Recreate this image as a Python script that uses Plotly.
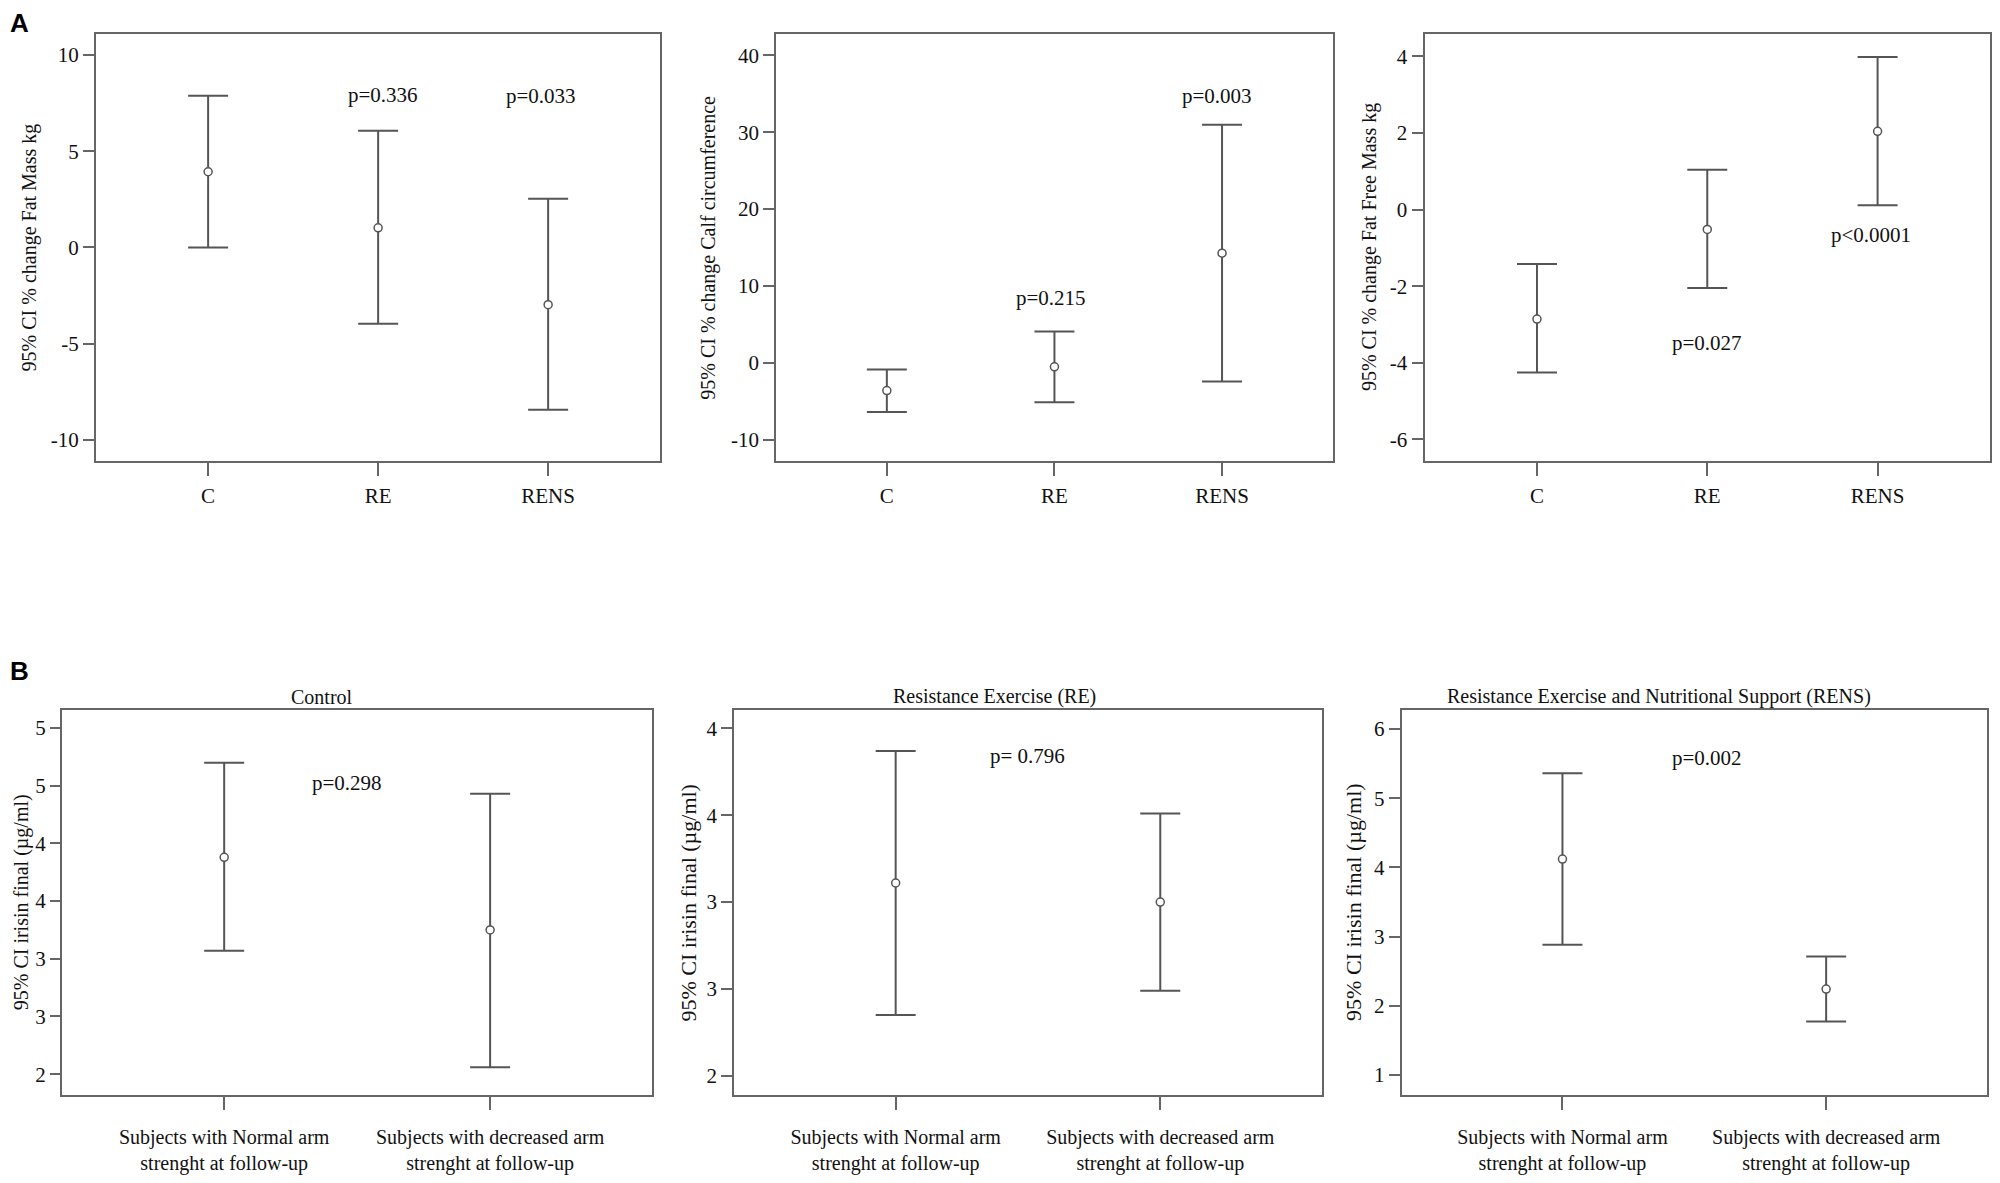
import plotly.graph_objects as go
from plotly.subplots import make_subplots

# ---- panel A: % change by group (C / RE / RENS) ----
a_groups = ["C", "RE", "RENS"]

fat_mass_mean = [3.93, 1.02, -2.97]
fat_mass_low = [0.0, -3.96, -8.43]
fat_mass_high = [7.88, 6.06, 2.53]

calf_mean = [-3.63, -0.53, 14.25]
calf_low = [-6.42, -5.13, -2.43]
calf_high = [-0.88, 4.07, 30.97]

ffm_mean = [-2.86, -0.52, 2.04]
ffm_low = [-4.25, -2.05, 0.11]
ffm_high = [-1.42, 1.04, 3.98]

# ---- panel B: irisin final by arm strength ----
b_groups = ["Subjects with Normal arm<br>strenght at follow-up",
            "Subjects with decreased arm<br>strenght at follow-up"]

control_mean = [3.88, 3.25]
control_low = [3.07, 2.06]
control_high = [4.70, 4.43]

re_mean = [3.11, 3.00]
re_low = [2.35, 2.49]
re_high = [3.87, 3.51]

rens_mean = [4.12, 2.24]
rens_low = [2.88, 1.77]
rens_high = [5.36, 2.71]

# p-value labels: (text, x index, y)
p_fat = [("p=0.336", 1.03, 7.9), ("p=0.033", 1.96, 7.85)]
p_calf = [("p=0.215", 0.98, 8.4), ("p=0.003", 1.97, 34.7)]
p_ffm = [("p=0.027", 1.0, -3.48), ("p<0.0001", 1.96, -0.67)]
p_control = [("p=0.298", 0.46, 4.52)]
p_re = [("p= 0.796", 0.5, 3.84)]
p_rens = [("p=0.002", 0.55, 5.58)]

# tick labels as printed (SPSS rounded the 0.5 steps to integers)
a1_ticks = [-10, -5, 0, 5, 10]
a1_labels = ["-10", "-5", "0", "5", "10"]
a2_ticks = [-10, 0, 10, 20, 30, 40]
a2_labels = ["-10", "0", "10", "20", "30", "40"]
a3_ticks = [-6, -4, -2, 0, 2, 4]
a3_labels = ["-6", "-4", "-2", "0", "2", "4"]
b1_ticks = [2, 2.5, 3, 3.5, 4, 4.5, 5]
b1_labels = ["2", "3", "3", "4", "4", "5", "5"]
b2_ticks = [2, 2.5, 3, 3.5, 4]
b2_labels = ["2", "3", "3", "4", "4"]
b3_ticks = [1, 2, 3, 4, 5, 6]
b3_labels = ["1", "2", "3", "4", "5", "6"]

# page body has an 8px margin, so the figure is a bit smaller than the window
OFF = 8
FW, FH = 1984, 1167
SERIF = "Liberation Serif, Times New Roman, serif"
LINE = "#666666"
BAR = "#555555"


def px_x(v):
    return (v - OFF) / FW


def px_y(v):
    return 1 - (v - OFF) / FH


panels = [
    dict(x=a_groups, m=fat_mass_mean, lo=fat_mass_low, hi=fat_mass_high, p=p_fat,
         xd=(96, 661), yd=(34, 468), yr=[-11.1, 11.1], xr=[-0.66, 2.66],
         yt="95% CI % change Fat Mass kg", ytx=29, yts=20, title=None, tv=a1_ticks, tt=a1_labels),
    dict(x=a_groups, m=calf_mean, lo=calf_low, hi=calf_high, p=p_calf,
         xd=(777, 1334), yd=(34, 468), yr=[-12.83, 42.83], xr=[-0.66, 2.66],
         yt="95% CI % change Calf circumference", ytx=709, yts=20, title=None,
         tv=a2_ticks, tt=a2_labels),
    dict(x=a_groups, m=ffm_mean, lo=ffm_low, hi=ffm_high, p=p_ffm,
         xd=(1426, 1992), yd=(34, 468), yr=[-6.57, 4.59], xr=[-0.66, 2.66],
         yt="95% CI % change Fat Free Mass kg", ytx=1371, yts=20, title=None,
         tv=a3_ticks, tt=a3_labels),
    dict(x=b_groups, m=control_mean, lo=control_low, hi=control_high, p=p_control,
         xd=(62, 653), yd=(720, 1111), yr=[1.82, 5.16], xr=[-0.61, 1.61],
         yt="95% CI irisin final (µg/ml)", ytx=21, yts=20, title=("Control", 322),
         tv=b1_ticks, tt=b1_labels),
    dict(x=b_groups, m=re_mean, lo=re_low, hi=re_high, p=p_re,
         xd=(735, 1323), yd=(720, 1111), yr=[1.89, 4.108], xr=[-0.61, 1.61],
         yt="95% CI irisin final (µg/ml)", ytx=689, yts=22,
         title=("Resistance Exercise (RE)", 995), tv=b2_ticks, tt=b2_labels),
    dict(x=b_groups, m=rens_mean, lo=rens_low, hi=rens_high, p=p_rens,
         xd=(1403, 1989), yd=(720, 1111), yr=[0.71, 6.28], xr=[-0.61, 1.61],
         yt="95% CI irisin final (µg/ml)", ytx=1355, yts=22,
         title=("Resistance Exercise and Nutritional Support (RENS)", 1661),
         tv=b3_ticks, tt=b3_labels),
]

fig = make_subplots(rows=2, cols=3)

annotations = []
for i, pn in enumerate(panels):
    row, col = i // 3 + 1, i % 3 + 1
    up = [h - m for h, m in zip(pn["hi"], pn["m"])]
    dn = [m - l for m, l in zip(pn["m"], pn["lo"])]
    fig.add_trace(go.Scatter(
        x=pn["x"], y=pn["m"], mode="markers", showlegend=False,
        marker=dict(symbol="circle", size=8, color="white", line=dict(color=BAR, width=1.5)),
        error_y=dict(type="data", symmetric=False, array=up, arrayminus=dn,
                     color=BAR, thickness=2, width=20),
    ), row=row, col=col)

    xd = [px_x(pn["xd"][0]), px_x(pn["xd"][1])]
    yd = [px_y(pn["yd"][1]), px_y(pn["yd"][0])]
    is_b = row == 2
    fig.update_xaxes(domain=xd, range=pn["xr"], type="category",
                     showline=True, mirror=True, linecolor=LINE, linewidth=2,
                     ticks="outside", ticklen=13, tickwidth=2, tickcolor=LINE,
                     ticklabelstandoff=10 if is_b else 2,
                     showgrid=False, zeroline=False,
                     tickfont=dict(family=SERIF, size=20 if is_b else 21, color="#111"),
                     row=row, col=col)
    fig.update_yaxes(domain=yd, range=pn["yr"],
                     tickmode="array", tickvals=pn["tv"], ticktext=pn["tt"],
                     showline=True, mirror=True, linecolor=LINE, linewidth=2,
                     ticks="outside", ticklen=10 if i == 3 else 11, tickwidth=2, tickcolor=LINE,
                     showgrid=False, zeroline=False,
                     tickfont=dict(family=SERIF, size=21, color="#111"),
                     row=row, col=col)

    xref = "x" if i == 0 else f"x{i + 1}"
    yref = "y" if i == 0 else f"y{i + 1}"
    for txt, px, py in pn["p"]:
        annotations.append(dict(text=txt, x=px, y=py, xref=xref, yref=yref, showarrow=False,
                                font=dict(family=SERIF, size=21, color="#111")))
    # y axis title
    annotations.append(dict(text=pn["yt"], x=px_x(pn["ytx"]), y=(yd[0] + yd[1]) / 2,
                            xref="paper", yref="paper", textangle=-90, showarrow=False,
                            xanchor="center", yanchor="middle", borderpad=0,
                            font=dict(family=SERIF, size=pn["yts"], color="#111")))
    if pn["title"]:
        annotations.append(dict(text=pn["title"][0], x=px_x(pn["title"][1]), y=px_y(707),
                                xref="paper", yref="paper", showarrow=False,
                                xanchor="center", yanchor="middle",
                                font=dict(family=SERIF, size=20, color="#111")))

annotations.append(dict(text="<b>A</b>", x=px_x(8), y=px_y(6), xref="paper", yref="paper",
                        xanchor="left", yanchor="top", showarrow=False,
                        font=dict(family="Liberation Sans, Arial, sans-serif", size=26, color="black")))
annotations.append(dict(text="<b>B</b>", x=px_x(8), y=px_y(664), xref="paper", yref="paper",
                        xanchor="left", yanchor="top", showarrow=False,
                        font=dict(family="Liberation Sans, Arial, sans-serif", size=26, color="black")))

fig.update_layout(width=FW, height=FH, margin=dict(l=0, r=0, t=0, b=0),
                  paper_bgcolor="white", plot_bgcolor="white",
                  annotations=annotations, showlegend=False)

fig.write_html("out.html")
